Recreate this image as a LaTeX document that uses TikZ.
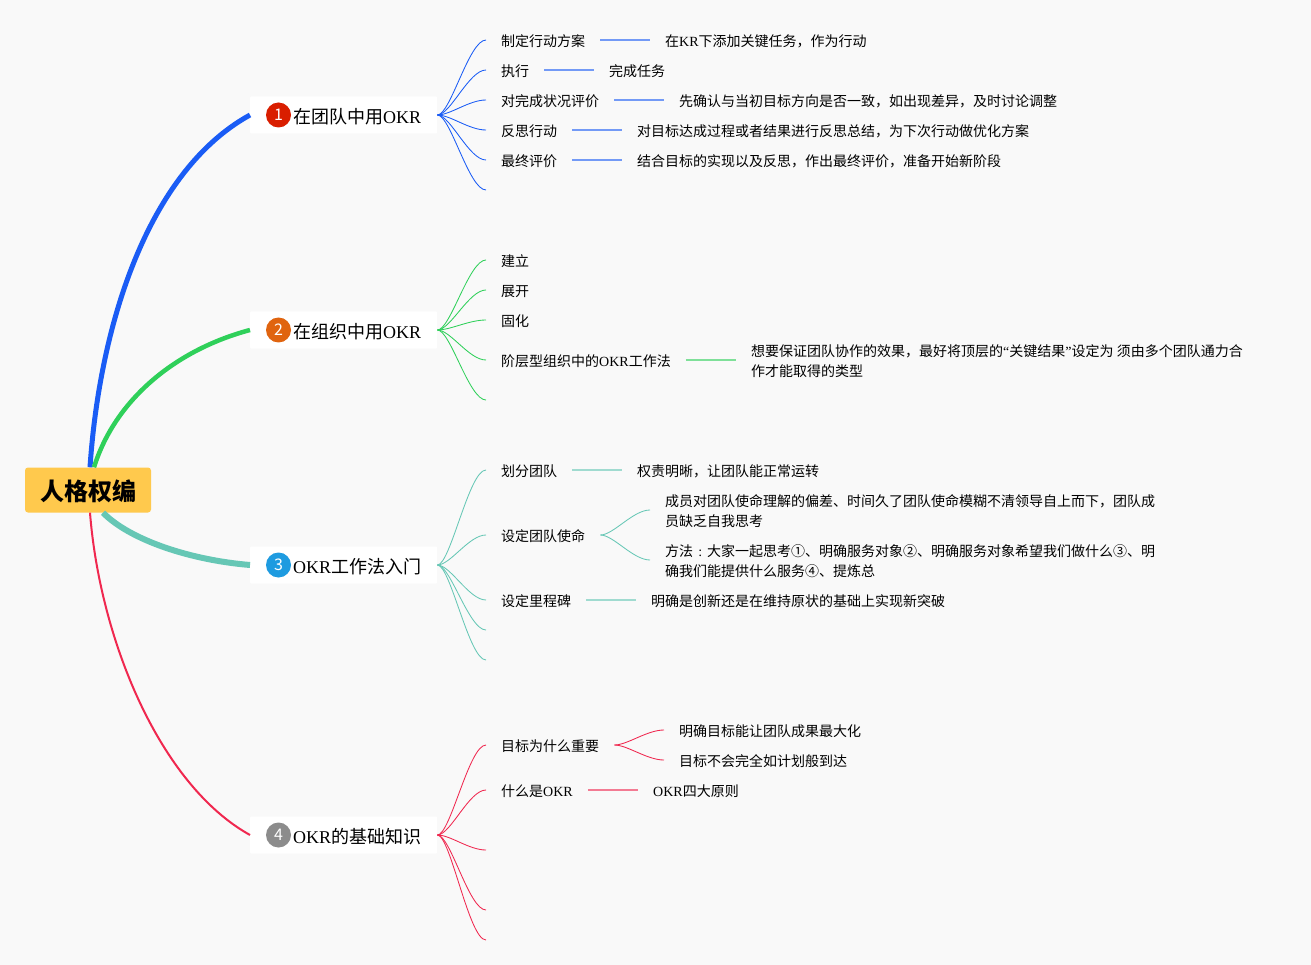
\documentclass[tikz,border=0pt]{standalone}
\usepackage{fontspec}
\setmainfont{Noto Sans CJK SC}
\newfontfamily\latinfont{Liberation Serif}
\newcommand{\okr}{{\latinfont OKR}}
\definecolor{bgcol}{HTML}{F9F9F9}
\definecolor{rootcol}{HTML}{FFC94D}
\definecolor{bluecol}{HTML}{1A5CF5}
\definecolor{greencol}{HTML}{2FD05A}
\definecolor{tealcol}{HTML}{66C7B5}
\definecolor{redcol}{HTML}{F0284F}
\definecolor{onecol}{HTML}{D91E00}
\definecolor{twocol}{HTML}{E0640F}
\definecolor{threecol}{HTML}{1E9BE0}
\definecolor{fourcol}{HTML}{8C8C8C}
\tikzset{
  rootbox/.style={fill=rootcol, rounded corners=3pt, minimum width=126pt, minimum height=45pt, inner sep=0pt, font=\fontsize{24}{28}\selectfont\bfseries, text height=23pt, text depth=2pt},
  topicbox/.style={fill=white, anchor=west, rounded corners=1pt, minimum width=187pt, minimum height=37pt, inner xsep=0pt, inner ysep=0pt, font=\fontsize{18}{22}\selectfont, text height=19pt, text depth=2pt},
  badge/.style={circle, text=white, minimum size=25pt, inner sep=0pt, font=\fontsize{16}{18}\selectfont},
  leaf/.style={anchor=west, align=left, inner xsep=15pt, inner ysep=0pt, font=\fontsize{14}{20}\selectfont, text height=15.4pt, text depth=2pt},
  leaftwo/.style={leaf, text height=35.4pt},
  fan/.style={out=0, in=180, out distance=13pt, in distance=17pt},
  twig/.style={line width=1.3pt, opacity=0.6},
  vein/.style={line width=0.85pt}
}
\begin{document}
\begin{tikzpicture}[x=1pt, y=-1pt]
\useasboundingbox (0,0) rectangle (1311,965);
\fill [bgcol] (0,0) rectangle (1311,965);

\node [rootbox] (root) at (88,490) {人格权编};

\node [topicbox] (t1) at (250,115) {\hspace{27pt}在团队中用\okr};
\node [topicbox] (t2) at (250,330) {\hspace{27pt}在组织中用\okr};
\node [topicbox] (t3) at (250,565) {\hspace{27pt}\okr 工作法入门};
\node [topicbox] (t4) at (250,835) {\hspace{27pt}\okr 的基础知识};
\node [badge, fill=onecol] (n1) at (278.5,115) {1};
\node [badge, fill=twocol] (n2) at (278.5,330) {2};
\node [badge, fill=threecol] (n3) at (278.5,565) {3};
\node [badge, fill=fourcol] (n4) at (278.5,835) {4};

\draw [bluecol, line width=5pt] ([xshift=2pt]root.north) .. controls (100,320) and (150,170) .. (t1.west);
\draw [greencol, line width=4.5pt] ([xshift=6pt]root.north) .. controls (115,400) and (175,350) .. (t2.west);
\draw [tealcol, line width=6pt] ([xshift=15pt]root.south) .. controls (130,540) and (190,560) .. (t3.west);
\draw [redcol, line width=2pt] ([xshift=2pt]root.south) .. controls (100,640) and (160,785) .. (t4.west);

% first branch
\node [leaf] (a1) at (486,40) {制定行动方案};
\node [leaf] (a2) at (486,70) {执行};
\node [leaf] (a3) at (486,100) {对完成状况评价};
\node [leaf] (a4) at (486,130) {反思行动};
\node [leaf] (a5) at (486,160) {最终评价};
\coordinate (a6) at (486,190);
\node [leaf] (a1d) at (650,40) {在{\latinfont KR}下添加关键任务，作为行动};
\node [leaf] (a2d) at (594,70) {完成任务};
\node [leaf] (a3d) at (664,100) {先确认与当初目标方向是否一致，如出现差异，及时讨论调整};
\node [leaf] (a4d) at (622,130) {对目标达成过程或者结果进行反思总结，为下次行动做优化方案};
\node [leaf] (a5d) at (622,160) {结合目标的实现以及反思，作出最终评价，准备开始新阶段};
\foreach \i in {1,...,6} \draw [vein, bluecol] (t1.east) to [fan] (a\i.west);
\foreach \i in {1,...,5} \draw [twig, bluecol] (a\i.east) -- (a\i d.west);

% second branch
\node [leaf] (b1) at (486,260) {建立};
\node [leaf] (b2) at (486,290) {展开};
\node [leaf] (b3) at (486,320) {固化};
\node [leaf] (b4) at (486,360) {阶层型组织中的\okr 工作法};
\coordinate (b5) at (486,400);
\node [leaftwo] (b4d) at (736,360) {想要保证团队协作的效果，最好将顶层的{\latinfont “}关键结果{\latinfont ”}设定为 须由多个团队通力合\\作才能取得的类型};
\foreach \i in {1,...,5} \draw [vein, greencol] (t2.east) to [fan] (b\i.west);
\draw [twig, greencol] (b4.east) -- (b4d.west);

% third branch
\node [leaf] (c1) at (486,470) {划分团队};
\node [leaf] (c2) at (486,535) {设定团队使命};
\node [leaf] (c3) at (486,600) {设定里程碑};
\coordinate (c4) at (486,630);
\coordinate (c5) at (486,660);
\node [leaf] (c1d) at (622,470) {权责明晰，让团队能正常运转};
\node [leaftwo] (c2x) at (650,510) {成员对团队使命理解的偏差、时间久了团队使命模糊不清领导自上而下，团队成\\员缺乏自我思考};
\node [leaftwo] (c2y) at (650,560) {方法\makebox[14pt]{\latinfont :}大家一起思考①、明确服务对象②、明确服务对象希望我们做什么③、明\\确我们能提供什么服务④、提炼总};
\node [leaf] (c3d) at (636,600) {明确是创新还是在维持原状的基础上实现新突破};
\foreach \i in {1,...,5} \draw [vein, tealcol] (t3.east) to [fan] (c\i.west);
\draw [twig, tealcol] (c1.east) -- (c1d.west);
\draw [twig, tealcol] (c3.east) -- (c3d.west);
\draw [vein, tealcol] (c2.east) to [fan] (c2x.west);
\draw [vein, tealcol] (c2.east) to [fan] (c2y.west);

% fourth branch
\node [leaf] (d1) at (486,745) {目标为什么重要};
\node [leaf] (d2) at (486,790) {什么是\okr};
\coordinate (d3) at (486,850);
\coordinate (d4) at (486,910);
\coordinate (d5) at (486,940);
\node [leaf] (d1x) at (664,730) {明确目标能让团队成果最大化};
\node [leaf] (d1y) at (664,760) {目标不会完全如计划般到达};
\node [leaf] (d2d) at (638,790) {\okr 四大原则};
\foreach \i in {1,...,5} \draw [vein, redcol] (t4.east) to [fan] (d\i.west);
\draw [vein, redcol] (d1.east) to [fan] (d1x.west);
\draw [vein, redcol] (d1.east) to [fan] (d1y.west);
\draw [twig, redcol] (d2.east) -- (d2d.west);
\end{tikzpicture}
\end{document}
